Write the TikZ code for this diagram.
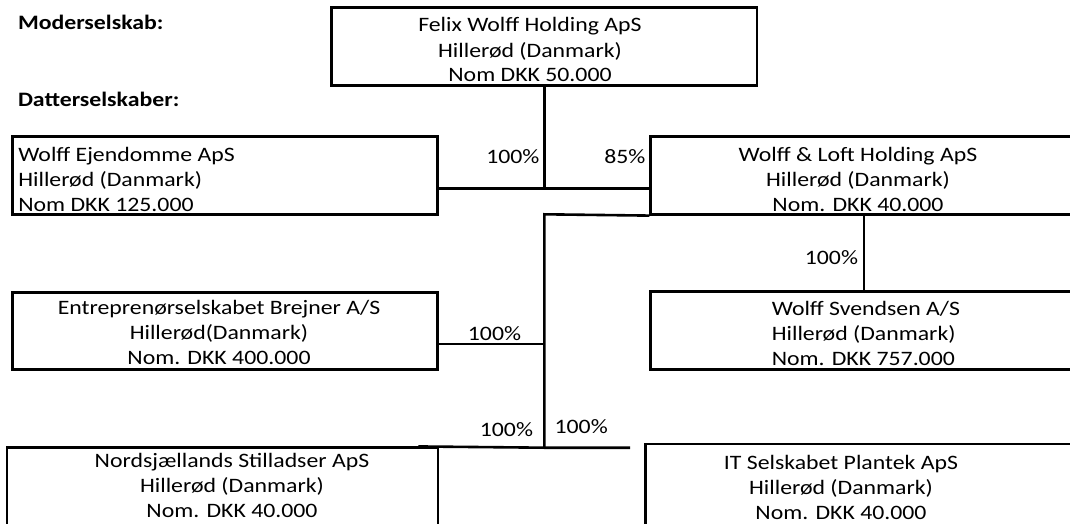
\documentclass[tikz,border=0pt]{standalone}
\usepackage{fontspec}
\setmainfont{Carlito}[FakeStretch=1.16]
\usepackage{tikz}

\begin{document}
\begin{tikzpicture}[x = 1pt, y = -1pt, line width = 2.6pt,
    firma/.style = {draw, rectangle, inner sep = 0pt},
    tekst/.style = {font = \fontsize{20.5}{25}\selectfont, inner sep = 0pt, align = center, anchor = base},
    pct/.style = {font = \fontsize{20.5}{25}\selectfont, inner sep = 0pt}]
\useasboundingbox (0,0) rectangle (1070,524);
% overskrifter
\node[pct, anchor = base west] (moder) at (16.7,30) {\bfseries Moderselskab:};
\node[pct, anchor = base west] (datter) at (16.7,106.7) {\bfseries Datterselskaber:};
% kasser
\node[firma, minimum width = 425.3, minimum height = 78.4] (felix) at (544.3,46.5) {};
\node[firma, minimum width = 425, minimum height = 77.5] (ejendomme) at (225.2,175.5) {};
\node[firma, minimum width = 426.6, minimum height = 77.6] (loft) at (864,175.5) {};
\node[firma, minimum width = 425, minimum height = 77] (brejner) at (225.2,330.8) {};
\node[firma, minimum width = 426.6, minimum height = 77.6] (svendsen) at (864,330.5) {};
\node[firma, minimum width = 431, minimum height = 82.3] (stillads) at (222.5,488.9) {};
\node[firma, minimum width = 444.3, minimum height = 86] (plantek) at (867.9,487) {};
% tekst i kasserne (base = sidste linje)
\node[tekst] (felix-t) at (530,82) {Felix Wolff Holding ApS\\Hillerød (Danmark)\\Nom DKK 50.000};
\node[tekst, align = left, anchor = base west] (ejendomme-t) at (17,211.7) {Wolff Ejendomme ApS\\Hillerød (Danmark)\\Nom DKK 125.000};
\node[tekst] (loft-t) at (858,211.7) {Wolff \& Loft Holding ApS\\Hillerød (Danmark)\\Nom. DKK 40.000};
\node[tekst] (brejner-t) at (219,364.5) {Entreprenørselskabet Brejner A/S\\Hillerød(Danmark)\\Nom. DKK 400.000};
\node[tekst, align = left, anchor = base west] (svendsen-t) at (770.5,365) {Wolff Svendsen A/S\\Hillerød (Danmark)\\Nom. DKK 757.000};
\node[tekst] (stillads-t) at (232,517.3) {Nordsjællands Stilladser ApS\\Hillerød (Danmark)\\Nom. DKK 40.000};
\node[tekst] (plantek-t) at (841,519.5) {IT Selskabet Plantek ApS\\Hillerød (Danmark)\\Nom. DKK 40.000};
% forbindelser
\coordinate (k1) at (544.3,188.3);
\coordinate (k2) at (544.3,214.3);
\coordinate (k3) at (544.3,344);
\coordinate (k4) at (544.3,447.7);
\coordinate (k5) at (630,447.7);
\draw (felix.south) -- (k1);
\draw (ejendomme.east |- k1) -- (loft.west |- k1);
\draw (loft.south west) -- (k2) -- (k4);
\draw (brejner.east |- k3) -- (k3);
\draw ([xshift = -21pt]stillads.north east) -- (k4) -- (k5);
\draw (loft.south) -- (svendsen.north);
% ejerandele
\node[pct, anchor = base east] (p1) at (540.7,163.3) {100\%};
\node[pct, anchor = base east] (p2) at (646.7,163.3) {85\%};
\node[pct, anchor = base east] (p3) at (859.3,264) {100\%};
\node[pct, anchor = base] (p4) at (494.5,340) {100\%};
\node[pct, anchor = base east] (p5) at (534.3,436) {100\%};
\node[pct, anchor = base west] (p6) at (553.3,433.3) {100\%};
\end{tikzpicture}
\end{document}
